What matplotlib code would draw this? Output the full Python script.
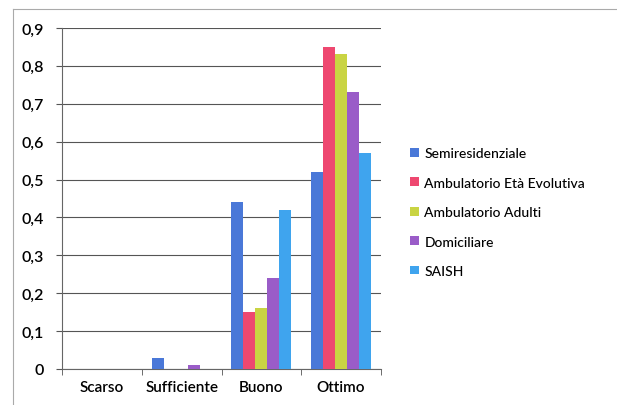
import matplotlib.pyplot as plt
import numpy as np
from matplotlib.ticker import FuncFormatter, FixedLocator

categorie = ['Scarso', 'Sufficiente', 'Buono', 'Ottimo']
serie = ['Semiresidenziale', 'Ambulatorio Età Evolutiva', 'Ambulatorio Adulti',
         'Domiciliare', 'SAISH']
semiresidenziale = [0.0, 0.03, 0.44, 0.52]
eta_evolutiva = [0.0, 0.0, 0.15, 0.85]
adulti = [0.0, 0.0, 0.16, 0.83]
domiciliare = [0.0, 0.01, 0.24, 0.73]
saish = [0.0, 0.0, 0.42, 0.57]
valori = [semiresidenziale, eta_evolutiva, adulti, domiciliare, saish]
colori = ['#4a78d8', '#ee4870', '#c9d443', '#9a5cc8', '#3fa4ee']

plt.rcParams['font.family'] = ['Lato', 'DejaVu Sans']

fig = plt.figure(figsize=(6.17, 4.06), dpi=100)
ax = fig.add_axes([0.1005, 0.0887, 0.517, 0.84])

x = np.arange(len(categorie))
w = 0.15
for i in range(len(serie)):
    ax.bar(x + (i - 2) * w, valori[i], w, color=colori[i], label=serie[i], zorder=3)

ax.set_xlim(-0.5, 3.5)
ax.set_ylim(0, 0.9)
ax.set_yticks(np.arange(0, 0.91, 0.1))
ax.yaxis.set_major_formatter(FuncFormatter(
    lambda v, p: '0' if abs(v) < 1e-9 else ('%.1f' % v).replace('.', ',')))
ax.set_xticks(x)
ax.set_xticklabels(categorie)
ax.xaxis.set_minor_locator(FixedLocator([-0.5, 0.5, 1.5, 2.5, 3.5]))
ax.tick_params(axis='x', which='major', length=0, pad=8, labelsize=11)
ax.tick_params(axis='x', which='minor', length=4, color='#555555')
ax.tick_params(axis='y', length=4, color='#555555', labelsize=11.5, pad=9)
for t in ax.get_yticklabels() + ax.get_xticklabels():
    t.set_fontweight('semibold')

ax.grid(axis='y', color='#555555', linewidth=0.8, zorder=0)
for s in ['top', 'right']:
    ax.spines[s].set_visible(False)
ax.spines['left'].set_color('#666666')
ax.spines['bottom'].set_color('#666666')

leg = fig.legend(loc='center left', bbox_to_anchor=(0.645, 0.475), frameon=False,
                 fontsize=10, handlelength=0.6, handleheight=0.6,
                 handletextpad=0.4, labelspacing=1.25)
for t in leg.get_texts():
    t.set_fontweight('medium')

# cornice esterna del grafico
fig.add_artist(plt.Line2D([13 / 617, 13 / 617], [0, 1 - 10 / 406],
                          transform=fig.transFigure, color='#aaaaaa', lw=0.8))
fig.add_artist(plt.Line2D([13 / 617, 1], [1 - 10 / 406, 1 - 10 / 406],
                          transform=fig.transFigure, color='#aaaaaa', lw=0.8))

fig.savefig('out.png', dpi=100)
